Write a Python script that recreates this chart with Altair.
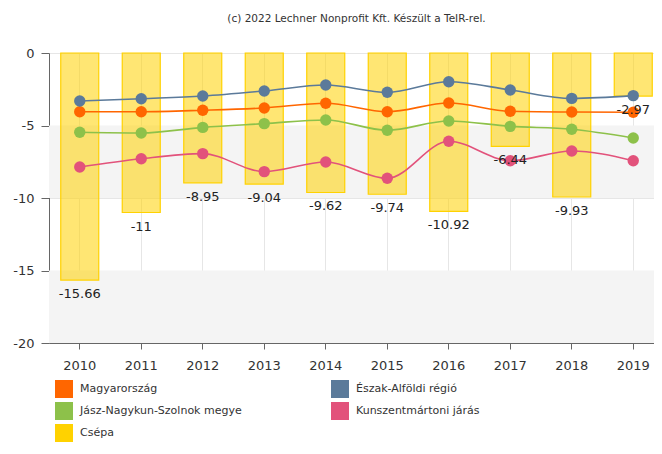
import altair as alt
import pandas as pd

years = ["2010", "2011", "2012", "2013", "2014", "2015", "2016", "2017", "2018", "2019"]
csepa = [-15.66, -11, -8.95, -9.04, -9.62, -9.74, -10.92, -6.44, -9.93, -2.97]
magyarorszag = [-4.05, -4.05, -3.95, -3.79, -3.47, -4.05, -3.45, -4.02, -4.07, -4.09]
eszak_alfold = [-3.31, -3.15, -2.97, -2.62, -2.21, -2.71, -1.98, -2.55, -3.13, -2.94]
jnsz_megye = [-5.47, -5.52, -5.13, -4.87, -4.62, -5.33, -4.69, -5.06, -5.26, -5.86]
kunszentmartoni = [-7.86, -7.29, -6.94, -8.18, -7.52, -8.64, -6.09, -7.43, -6.76, -7.43]

series_names = ["Magyarország", "Észak-Alföldi régió", "Jász-Nagykun-Szolnok megye",
                "Kunszentmártoni járás", "Csépa"]
series_colors = ["#FF6600", "#5B7A9A", "#8DC14A", "#E2527B", "#FFD200"]

band_from = [-5, -15]
band_to = [-10, -20]

FONT = "DejaVu Sans"

line_rows = []
for name, vals in zip(series_names[:4], [magyarorszag, eszak_alfold, jnsz_megye, kunszentmartoni]):
    for y, v in zip(years, vals):
        line_rows.append({"year": y, "value": v, "series": name})
lines_df = pd.DataFrame(line_rows)

bars_df = pd.DataFrame({"year": years, "value": csepa, "series": ["Csépa"] * len(years)})
bars_df["label"] = [str(v) for v in csepa]

bands_df = pd.DataFrame({"y1": band_from, "y2": band_to})

color_scale = alt.Scale(domain=series_names, range=series_colors)
x_enc = alt.X("year:O", sort=years, title=None,
              scale=alt.Scale(paddingInner=0, paddingOuter=0),
              axis=alt.Axis(labelAngle=0, labelFontSize=13, labelFont=FONT, labelColor="#333",
                            domainColor="#666", tickColor="#666", tickSize=6, labelPadding=10,
                            grid=True, gridColor="#e6e6e6"))
y_scale = alt.Scale(domain=[-20, 0], nice=False)
y_enc = alt.Y("value:Q", scale=y_scale, title=None,
              axis=alt.Axis(values=[0, -5, -10, -15, -20], labelFontSize=13, labelFont=FONT,
                            labelColor="#333", domainColor="#666", tickColor="#666", tickSize=8,
                            labelPadding=7, grid=True, gridColor="#e6e6e6",
                            labelExpr="datum.value + ''"))

bands = alt.Chart(bands_df).mark_rect(color="#f4f4f4").encode(
    x=alt.value(0), x2=alt.value("width"),
    y=alt.Y("y1:Q", scale=y_scale), y2="y2:Q")

legend = alt.Legend(title=None, orient="none", legendX=6, legendY=327, columns=2,
                    direction="horizontal", labelLimit=400,
                    columnPadding=89, rowPadding=4, symbolType="square", symbolSize=324,
                    symbolStrokeWidth=0, symbolOpacity=1, labelFontSize=11, labelFont=FONT,
                    labelColor="#333", labelOffset=7, padding=0)

bars = alt.Chart(bars_df).mark_bar(size=38, fillOpacity=0.55, stroke="#FFD200",
                                   strokeWidth=1.2).encode(
    x=x_enc, y=y_enc,
    color=alt.Color("series:N", scale=color_scale, legend=legend))

lines = alt.Chart(lines_df).mark_line(
    interpolate="monotone", strokeWidth=1.6,
    point=alt.OverlayMarkDef(filled=True, size=130, opacity=1)).encode(
    x=alt.X("year:O", sort=years),
    y=alt.Y("value:Q"),
    color=alt.Color("series:N", scale=color_scale, legend=legend))

labels = alt.Chart(bars_df).mark_text(fontSize=13, font=FONT, color="#222", dy=14,
                                      baseline="middle").encode(
    x=alt.X("year:O", sort=years), y=alt.Y("value:Q"), text="label:N")

chart = alt.layer(bands, bars, lines, labels).resolve_scale(color="shared").properties(
    width=615, height=290,
    title=alt.TitleParams("(c) 2022 Lechner Nonprofit Kft. Készült a TeIR-rel.",
                          fontSize=10.5, font=FONT, fontWeight="normal", color="#333",
                          offset=23, anchor="middle"),
    autosize=alt.AutoSizeParams(type="none"),
    padding={"left": 41, "top": 45, "right": -10, "bottom": 99},
).configure_view(stroke=None)

chart.save("out.html", embed_options={"renderer": "svg", "actions": False})
